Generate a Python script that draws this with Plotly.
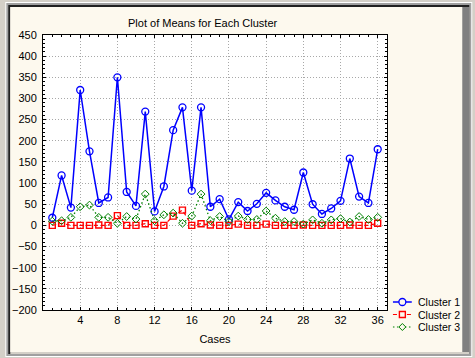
import plotly.graph_objects as go

cases = list(range(1, 37))
cluster1 = [18, 118, 42, 320, 175, 53, 66, 350, 79, 46, 269, 33, 92, 225, 279, 82, 279, 44,
            62, 14, 55, 34, 51, 77, 59, 44, 37, 125, 50, 27, 40, 58, 158, 68, 53, 180]
cluster2 = [0, 5, 0, 0, 0, 1, 0, 23, 0, 0, 4, 0, 0, 22, 36, 0, 4, 1,
            0, 0, 3, 0, 0, 3, 0, 0, 0, 1, 0, 0, 0, 0, 1, 0, 0, 5]
cluster3 = [10, 11, 19, 44, 48, 19, 19, 5, 21, 15, 74, 11, 25, 29, 5, 22, 74, 11,
            21, 9, 22, 14, 14, 34, 17, 9, 9, 3, 13, 5, 13, 16, 8, 21, 14, 19]
series_names = ["Cluster 1", "Cluster 2", "Cluster 3"]
series_colors = ["#0000ff", "#ff0000", "#008000"]
x_ticks = [4, 8, 12, 16, 20, 24, 28, 32, 36]
y_ticks = list(range(-200, 451, 50))

FONT = "Liberation Sans, Arial, sans-serif"
BEIGE = "#fdf9ee"
W_, H_ = 475, 358
L, R, T, B = 40, 387, 35, 310
PW, PH = R - L, B - T


def X(px):
    return (px - L) / PW


def Y(py):
    return (B - py) / PH


fig = go.Figure()
fig.add_trace(go.Scatter(
    x=cases, y=cluster1, name=series_names[0], mode="lines+markers",
    line=dict(color=series_colors[0], width=1.5),
    marker=dict(symbol="circle-open", size=7, color=series_colors[0], line=dict(width=1.3))))
fig.add_trace(go.Scatter(
    x=cases, y=cluster2, name=series_names[1], mode="lines+markers",
    line=dict(color=series_colors[1], width=1.2, dash="4px,3px"),
    marker=dict(symbol="square-open", size=6, color=series_colors[1], line=dict(width=1.4))))
fig.add_trace(go.Scatter(
    x=cases, y=cluster3, name=series_names[2], mode="lines+markers",
    line=dict(color=series_colors[2], width=1.3, dash="1.5px,2.5px"),
    marker=dict(symbol="diamond-open", size=6, color=series_colors[2], line=dict(width=1))))

shapes = []
annotations = []


def rect(x0, y0, x1, y1, color, layer="below", line=None):
    shapes.append(dict(type="rect", xref="paper", yref="paper",
                       x0=X(x0), x1=X(x1), y0=Y(y1), y1=Y(y0),
                       fillcolor=color, line=line or dict(width=0), layer=layer))


# window frame
rect(2, 2, 473, 357, "#ffffff")
rect(3, 3, 472, 356, "#a0a0a0")
rect(5, 5, 470, 354, "#202020")
rect(7, 7, 470, 354, "#d4d0c8")
rect(7, 7, 463, 352, BEIGE)
rect(463, 7, 470, 352, "#808080")
rect(L, T, R, B, "#ffffff")

# legend drawn by hand (compact rows like the original)
rows = [302, 314.5, 327]
dashes = ["solid", "4px,3px", "1.5px,2.5px"]
for i, (name, col, py, dsh) in enumerate(zip(series_names, series_colors, rows, dashes)):
    shapes.append(dict(type="line", xref="paper", yref="paper",
                       x0=X(393), x1=X(412), y0=Y(py), y1=Y(py),
                       line=dict(color=col, width=1.5 if i == 0 else 1.2, dash=dsh), layer="above"))
    cx = 402.5
    if i == 0:
        shapes.append(dict(type="circle", xref="paper", yref="paper",
                           x0=X(cx - 3.5), x1=X(cx + 3.5), y0=Y(py + 3.5), y1=Y(py - 3.5),
                           fillcolor=BEIGE, line=dict(color=col, width=1.3), layer="above"))
    elif i == 1:
        shapes.append(dict(type="rect", xref="paper", yref="paper",
                           x0=X(cx - 3), x1=X(cx + 3), y0=Y(py + 3), y1=Y(py - 3),
                           fillcolor=BEIGE, line=dict(color=col, width=1.4), layer="above"))
    else:
        path = "M {},{} L {},{} L {},{} L {},{} Z".format(
            X(cx - 3.5), Y(py), X(cx), Y(py - 3.5), X(cx + 3.5), Y(py), X(cx), Y(py + 3.5))
        shapes.append(dict(type="path", xref="paper", yref="paper", path=path,
                           fillcolor=BEIGE, line=dict(color=col, width=1), layer="above"))
    annotations.append(dict(text=name, xref="paper", yref="paper", x=X(416), y=Y(py),
                            xanchor="left", yanchor="middle", showarrow=False,
                            font=dict(family=FONT, size=10.5, color="#000000")))

axis_common = dict(showline=True, linecolor="#000000", linewidth=1, mirror="ticks",
                   ticks="inside", ticklen=3, tickcolor="#000000",
                   showgrid=True, gridcolor="#a8a8a8", griddash="1px,2px", gridwidth=1,
                   zeroline=False, tickfont=dict(family=FONT, size=11, color="#000000"))

fig.update_layout(
    width=W_, height=H_,
    margin=dict(l=L, r=W_ - R, t=T, b=H_ - B, pad=0),
    paper_bgcolor="#d4d0c8", plot_bgcolor="#ffffff",
    font=dict(family=FONT, size=11, color="#000000"),
    title=dict(text="Plot of Means for Each Cluster", x=X(201), xref="paper", xanchor="center",
               y=1 - 23 / H_, yref="container", yanchor="middle",
               font=dict(family=FONT, size=11, color="#000000")),
    xaxis=dict(range=[0, 37], tickvals=x_ticks,
               minor=dict(dtick=1, tick0=0, ticks="inside", ticklen=2, tickcolor="#000000", showgrid=False),
               title=dict(text="Cases", standoff=10, font=dict(family=FONT, size=11)),
               **axis_common),
    yaxis=dict(range=[-200, 450], tickvals=y_ticks,
               minor=dict(dtick=10, tick0=0, ticks="inside", ticklen=2, tickcolor="#000000", showgrid=False),
               ticklabelstandoff=3,
               **axis_common),
    shapes=shapes,
    annotations=annotations,
    showlegend=False,
)

fig.write_html("out.html", config={"displayModeBar": False},
               post_script="document.body.style.margin='0';document.body.style.overflow='hidden';")
